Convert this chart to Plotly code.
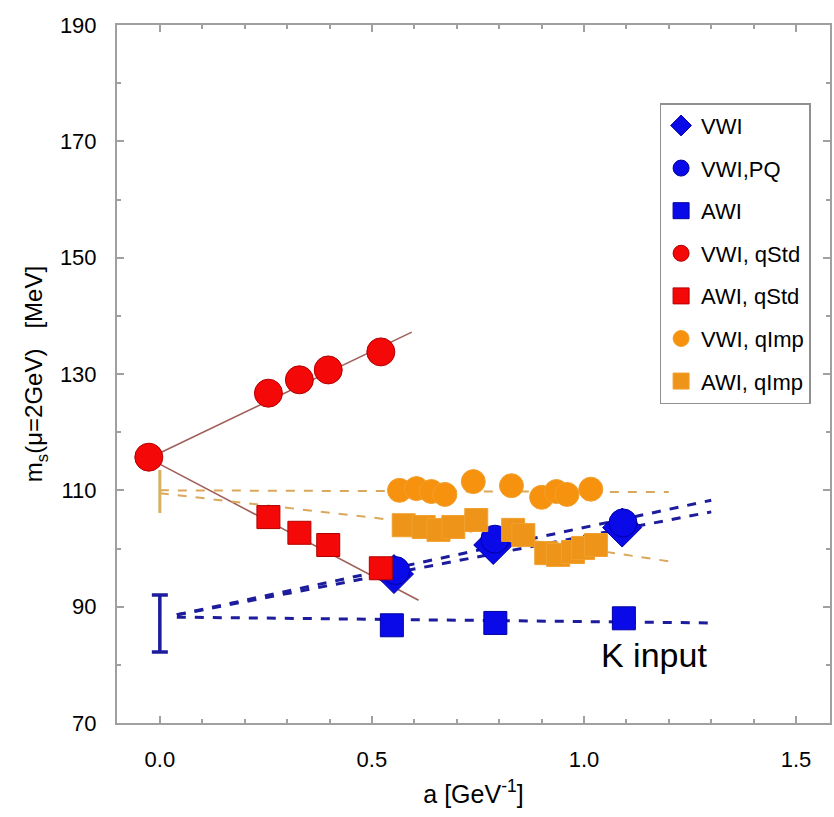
import plotly.graph_objects as go

# ---------------- data ----------------
# VWI (unquenched, diamonds)
vwi_x = [0.552, 0.786, 1.090]
vwi_y = [95.6, 100.6, 103.6]
# VWI,PQ (circles)
vwipq_x = [0.556, 0.790, 1.092]
vwipq_y = [96.2, 101.6, 104.4]
# AWI (squares)
awi_x = [0.547, 0.791, 1.094]
awi_y = [86.8, 87.2, 88.0]
# VWI, qStd
vwiqs_x = [-0.026, 0.256, 0.329, 0.397, 0.521]
vwiqs_y = [115.7, 126.7, 129.0, 130.7, 133.8]
# AWI, qStd
awiqs_x = [0.256, 0.329, 0.397, 0.521]
awiqs_y = [105.4, 102.7, 100.6, 96.6]
# VWI, qImp
vwiqi_x = [0.565, 0.605, 0.640, 0.672, 0.739, 0.829, 0.900, 0.935, 0.960, 1.016]
vwiqi_y = [110.0, 110.3, 109.8, 109.3, 111.5, 110.8, 108.8, 109.8, 109.3, 110.2]
# AWI, qImp
awiqi_x = [0.575, 0.622, 0.657, 0.692, 0.746, 0.833, 0.857, 0.911, 0.939, 0.974, 0.998, 1.028]
awiqi_y = [104.0, 103.7, 103.2, 103.7, 104.9, 103.2, 102.3, 99.2, 98.9, 99.4, 100.1, 100.6]

# fit / extrapolation lines (end points)
fit_vwi_x = [0.04, 1.30]
fit_vwi_y = [88.6, 106.3]
fit_vwipq_x = [0.04, 1.30]
fit_vwipq_y = [88.6, 108.3]
fit_awi_x = [0.04, 1.30]
fit_awi_y = [88.2, 87.2]
fit_vwiqs_x = [-0.026, 0.594]
fit_vwiqs_y = [115.5, 137.2]
fit_awiqs_x = [-0.026, 0.61]
fit_awiqs_y = [115.5, 91.1]
fit_vwiqi_x = [0.0, 1.20]
fit_vwiqi_y = [110.0, 109.7]
fit_awiqi_x = [0.0, 0.55, 1.20]
fit_awiqi_y = [109.5, 104.9, 97.8]

# continuum-limit values with errors
cont_blue_y = 88.0
cont_blue_plus = 4.0
cont_blue_minus = 5.8
cont_orange_y = 110.0
cont_orange_plus = 3.5
cont_orange_minus = 3.9

x_ticks = [0.0, 0.5, 1.0, 1.5]
x_ticklabels = ["0.0", "0.5", "1.0", "1.5"]
y_ticks = [70, 90, 110, 130, 150, 170, 190]

# ---------------- styles ----------------
BLUE = "#0a0ae8"
NAVY = "#1c1c9c"
RED = "#f40808"
ORANGE = "#f7920e"
ORANGE_SQ = "#ee9418"
FITRED = "#a0605a"
FITOR = "#d9a85a"
FONT = "Liberation Sans, Arial, sans-serif"

fig = go.Figure()

def line(x, y, color, width, dash):
    fig.add_trace(go.Scatter(x=x, y=y, mode="lines", showlegend=False,
                             line=dict(color=color, width=width, dash=dash),
                             hoverinfo="skip"))

# lines first (under markers)
line(fit_vwiqs_x, fit_vwiqs_y, FITRED, 1.6, "solid")
line(fit_awiqs_x, fit_awiqs_y, FITRED, 1.6, "solid")
line(fit_vwiqi_x, fit_vwiqi_y, FITOR, 2, "dash")
line(fit_awiqi_x, fit_awiqi_y, FITOR, 2, "dash")
line(fit_awi_x, fit_awi_y, NAVY, 3, "dash")
line(fit_vwi_x, fit_vwi_y, NAVY, 3, "dash")
line(fit_vwipq_x, fit_vwipq_y, NAVY, 3, "dash")

# error bars at a = 0
fig.add_trace(go.Scatter(x=[0.0], y=[cont_orange_y], mode="markers", showlegend=False,
                         marker=dict(size=1, color=FITOR),
                         error_y=dict(type="data", symmetric=False, array=[cont_orange_plus],
                                      arrayminus=[cont_orange_minus], color="#d8b060",
                                      thickness=3, width=0)))
fig.add_trace(go.Scatter(x=[0.0], y=[cont_blue_y], mode="markers", showlegend=False,
                         marker=dict(size=1, color=NAVY),
                         error_y=dict(type="data", symmetric=False, array=[cont_blue_plus],
                                      arrayminus=[cont_blue_minus], color=NAVY,
                                      thickness=3.5, width=8)))

def pts(x, y, name, symbol, size, color, lc):
    fig.add_trace(go.Scatter(x=x, y=y, mode="markers", name=name, legendgroup=name,
                             marker=dict(symbol=symbol, size=size, color=color,
                                         line=dict(color=lc, width=1))))

pts(vwi_x, vwi_y, "VWI", "diamond", 30, BLUE, "#0000a0")
pts(vwipq_x, vwipq_y, "VWI,PQ", "circle", 28, BLUE, "#0000a0")
pts(awi_x, awi_y, "AWI", "square", 23, BLUE, "#0000a0")
pts(vwiqs_x, vwiqs_y, "VWI, qStd", "circle", 28, RED, "#b00000")
pts(awiqs_x, awiqs_y, "AWI, qStd", "square", 23, RED, "#b00000")
pts(vwiqi_x, vwiqi_y, "VWI, qImp", "circle", 24, ORANGE, "#f0a030")
pts(awiqi_x, awiqi_y, "AWI, qImp", "square", 23, ORANGE_SQ, "#f0a030")

fig.add_annotation(x=1.165, y=81.7, text="K input", showarrow=False,
                   font=dict(size=34, color="black", family=FONT))

axis_common = dict(showline=True, linecolor="#a0a0a0", linewidth=2, mirror="ticks",
                   ticks="inside", tickcolor="#a0a0a0", ticklen=7, tickwidth=1.5,
                   showgrid=False, zeroline=False,
                   tickfont=dict(size=22, color="black", family=FONT))

fig.update_layout(
    width=834, height=817,
    margin=dict(l=117, r=2, t=25, b=94),
    plot_bgcolor="white", paper_bgcolor="white",
    font=dict(family=FONT, color="black"),
    xaxis=dict(range=[-0.101, 1.58], tickvals=x_ticks, ticktext=x_ticklabels,
               minor=dict(ticks="inside", dtick=0.1, tick0=0, ticklen=4, tickcolor="#a0a0a0"),
               title=dict(text="a [GeV<sup>-1</sup>]", font=dict(size=25), standoff=14),
               ticklabelstandoff=16, **axis_common),
    yaxis=dict(range=[70, 190], tickvals=y_ticks,
               minor=dict(ticks="inside", dtick=10, tick0=70, ticklen=4, tickcolor="#a0a0a0"),
               title=dict(text="m<sub>s</sub>(μ=2GeV)   [MeV]", font=dict(size=24), standoff=10),
               ticklabelstandoff=14, **axis_common),
    legend=dict(x=0.761, y=0.888, xanchor="left", yanchor="top",
                bgcolor="white", bordercolor="#909090", borderwidth=1.5,
                font=dict(size=22, family=FONT, color="black"),
                traceorder="grouped", tracegroupgap=11, itemsizing="trace"),
)

fig.write_html("out.html")
